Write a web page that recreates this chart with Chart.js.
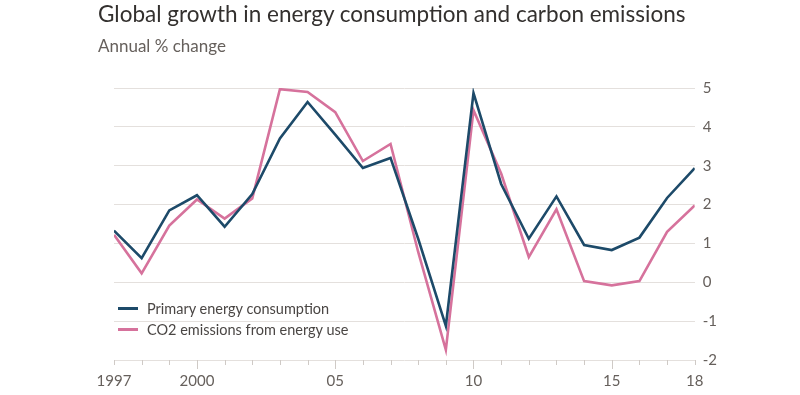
<!DOCTYPE html>
<html>
<head>
<meta charset="utf-8">
<script src="https://cdn.jsdelivr.net/npm/chart.js@4"></script>
<style>
  html, body { margin: 0; padding: 0; background: #ffffff; }
  #wrap { position: relative; width: 800px; height: 395px; overflow: hidden; font-family: "Lato", "Open Sans", sans-serif; }
  #title { position: absolute; left: 98px; top: 0px; font-size: 22.5px; color: #33302e; white-space: nowrap; }
  #subtitle { position: absolute; left: 98px; top: 35px; font-size: 17px; color: #66605c; white-space: nowrap; }
  #legend { position: absolute; left: 118px; top: 298px; font-size: 14.5px; color: #4a4644; }
  .row { height: 21px; display: flex; align-items: center; }
  .sw { width: 20px; height: 2.5px; margin-right: 9px; }
  canvas { position: absolute; left: 0; top: 0; }
</style>
</head>
<body>
<div id="wrap">
  <canvas id="c" width="800" height="395"></canvas>
  <div id="title">Global growth in energy consumption and carbon emissions</div>
  <div id="subtitle">Annual % change</div>
  <div id="legend"></div>
</div>
<script>
const years = [1997,1998,1999,2000,2001,2002,2003,2004,2005,2006,2007,2008,2009,2010,2011,2012,2013,2014,2015,2016,2017,2018];
const energyConsumption = [1.33,0.62,1.85,2.24,1.43,2.27,3.70,4.64,3.80,2.94,3.20,1.12,-1.12,4.87,2.53,1.12,2.21,0.96,0.83,1.15,2.17,2.94];
const co2Emissions = [1.22,0.23,1.46,2.13,1.64,2.16,4.97,4.90,4.38,3.12,3.56,0.78,-1.74,4.43,2.80,0.65,1.88,0.03,-0.08,0.03,1.30,1.98];
const seriesNames = ["Primary energy consumption", "CO2 emissions from energy use"];
const xTickLabels = {1997:"1997", 2000:"2000", 2005:"05", 2010:"10", 2015:"15", 2018:"18"};
const yTicks = [-2,-1,0,1,2,3,4,5];

const navy = "#1d4a69";
const pink = "#d6729c";

// legend (HTML)
const legend = document.getElementById("legend");
[[seriesNames[0], navy],[seriesNames[1], pink]].forEach(([n,c]) => {
  const r = document.createElement("div"); r.className = "row";
  const s = document.createElement("div"); s.className = "sw"; s.style.background = c;
  const t = document.createElement("span"); t.textContent = n;
  r.appendChild(s); r.appendChild(t); legend.appendChild(r);
});

const tickPlugin = {
  id: "yearTicks",
  afterDraw(chart) {
    const x = chart.scales.x, ctx = chart.ctx, bottom = chart.chartArea.bottom;
    ctx.save();
    ctx.strokeStyle = "#cfcac6";
    ctx.lineWidth = 1;
    years.forEach(y => {
      const px = Math.round(x.getPixelForValue(y)) + 0.5;
      const len = (y in xTickLabels && y !== 1997 && y !== 2018) ? 9 : 5;
      ctx.beginPath(); ctx.moveTo(px, bottom); ctx.lineTo(px, bottom + len); ctx.stroke();
    });
    ctx.restore();
  }
};

new Chart(document.getElementById("c"), {
  type: "line",
  data: {
    datasets: [
      { label: seriesNames[0], data: years.map((y,i) => ({x:y, y:energyConsumption[i]})), borderColor: navy, borderWidth: 2.6, pointRadius: 0, tension: 0, order: 1 },
      { label: seriesNames[1], data: years.map((y,i) => ({x:y, y:co2Emissions[i]})), borderColor: pink, borderWidth: 2.6, pointRadius: 0, tension: 0, order: 2 }
    ]
  },
  options: {
    responsive: false,
    animation: false,
    layout: { padding: { left: 114, right: 75, top: 88, bottom: 0 } },
    plugins: { legend: { display: false }, tooltip: { enabled: false } },
    scales: {
      x: {
        type: "linear", min: 1997, max: 2018,
        afterBuildTicks: (s) => { s.ticks = years.map(v => ({value: v})); },
        grid: { display: false },
        border: { display: false },
        ticks: {
          autoSkip: false, maxRotation: 0, padding: 6,
          color: "#66605c", font: { family: "Lato", size: 15, lineHeight: 1 },
          callback: (v) => xTickLabels[v] || ""
        }
      },
      y: {
        position: "right", min: -2, max: 5,
        afterBuildTicks: (s) => { s.ticks = yTicks.map(v => ({value: v})); },
        grid: { color: "#e4e0dd", lineWidth: 1, drawTicks: false },
        border: { display: false },
        ticks: { color: "#66605c", font: { family: "Lato", size: 15 }, padding: 8, callback: (v) => String(v) }
      }
    }
  },
  plugins: [tickPlugin]
});
</script>
</body>
</html>
